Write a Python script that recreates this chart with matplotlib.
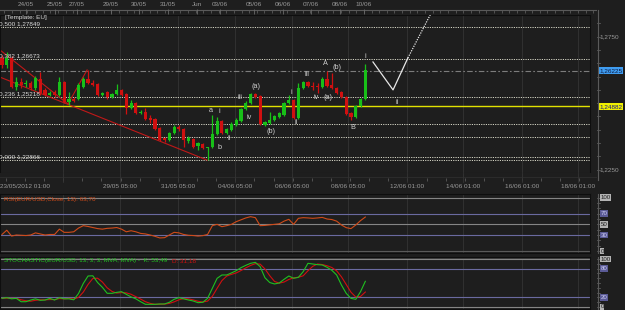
import matplotlib
matplotlib.use('Agg')
import matplotlib.pyplot as plt
from matplotlib.lines import Line2D
import matplotlib.transforms as mtransforms
import numpy as np

plt.rcParams['font.family'] = ['Liberation Sans', 'DejaVu Sans']

# ---------------- data ----------------
open_ = [1.2670, 1.2644, 1.2670, 1.2561, 1.2580, 1.2572, 1.2576, 1.2557, 1.2591, 1.2550,
         1.2531, 1.2542, 1.2531, 1.2580, 1.2504, 1.2516, 1.2516, 1.2561, 1.2591, 1.2576,
         1.2572, 1.2531, 1.2542, 1.2523, 1.2535, 1.2550, 1.2535, 1.2482, 1.2501, 1.2463,
         1.2467, 1.2444, 1.2441, 1.2407, 1.2369, 1.2362, 1.2388, 1.2410, 1.2403, 1.2358,
         1.2365, 1.2339, 1.2347, 1.2332, 1.2335, 1.2384, 1.2433, 1.2388, 1.2399, 1.2418,
         1.2433, 1.2478, 1.2501, 1.2535, 1.2527, 1.2418, 1.2426, 1.2437, 1.2448, 1.2456,
         1.2501, 1.2512, 1.2444, 1.2557, 1.2580, 1.2565, 1.2565, 1.2561, 1.2591, 1.2568,
         1.2557, 1.2542, 1.2523, 1.2463, 1.2448, 1.2489, 1.2516]
high = [1.2681, 1.2692, 1.2677, 1.2598, 1.2595, 1.2587, 1.2583, 1.2602, 1.2617, 1.2557,
        1.2546, 1.2550, 1.2598, 1.2583, 1.2542, 1.2523, 1.2576, 1.2598, 1.2625, 1.2587,
        1.2576, 1.2542, 1.2546, 1.2538, 1.2572, 1.2553, 1.2538, 1.2512, 1.2504, 1.2474,
        1.2482, 1.2456, 1.2444, 1.2410, 1.2373, 1.2392, 1.2418, 1.2418, 1.2407, 1.2377,
        1.2369, 1.2354, 1.2350, 1.2335, 1.2456, 1.2448, 1.2437, 1.2407, 1.2429, 1.2444,
        1.2482, 1.2508, 1.2538, 1.2538, 1.2531, 1.2433, 1.2467, 1.2456, 1.2467, 1.2504,
        1.2531, 1.2516, 1.2576, 1.2583, 1.2583, 1.2580, 1.2576, 1.2598, 1.2621, 1.2614,
        1.2561, 1.2546, 1.2527, 1.2467, 1.2493, 1.2520, 1.2647]
low = [1.2632, 1.2632, 1.2557, 1.2550, 1.2557, 1.2561, 1.2550, 1.2550, 1.2531, 1.2527,
       1.2527, 1.2523, 1.2527, 1.2501, 1.2493, 1.2504, 1.2512, 1.2557, 1.2572, 1.2565,
       1.2527, 1.2527, 1.2516, 1.2520, 1.2531, 1.2527, 1.2459, 1.2478, 1.2459, 1.2459,
       1.2437, 1.2426, 1.2399, 1.2358, 1.2354, 1.2358, 1.2384, 1.2395, 1.2335, 1.2350,
       1.2332, 1.2324, 1.2328, 1.2287, 1.2332, 1.2380, 1.2384, 1.2384, 1.2395, 1.2414,
       1.2429, 1.2474, 1.2497, 1.2520, 1.2418, 1.2414, 1.2422, 1.2433, 1.2444, 1.2452,
       1.2497, 1.2441, 1.2441, 1.2553, 1.2561, 1.2550, 1.2538, 1.2557, 1.2561, 1.2553,
       1.2535, 1.2520, 1.2456, 1.2437, 1.2444, 1.2486, 1.2512]
close = [1.2644, 1.2670, 1.2561, 1.2580, 1.2568, 1.2576, 1.2557, 1.2595, 1.2538, 1.2531,
         1.2538, 1.2531, 1.2580, 1.2504, 1.2516, 1.2508, 1.2568, 1.2591, 1.2576, 1.2568,
         1.2531, 1.2538, 1.2523, 1.2535, 1.2550, 1.2531, 1.2482, 1.2501, 1.2463, 1.2467,
         1.2441, 1.2437, 1.2403, 1.2362, 1.2362, 1.2388, 1.2410, 1.2403, 1.2362, 1.2369,
         1.2335, 1.2350, 1.2332, 1.2335, 1.2384, 1.2433, 1.2388, 1.2403, 1.2422, 1.2437,
         1.2478, 1.2501, 1.2535, 1.2523, 1.2422, 1.2429, 1.2437, 1.2452, 1.2463, 1.2501,
         1.2512, 1.2444, 1.2557, 1.2580, 1.2565, 1.2561, 1.2561, 1.2591, 1.2565, 1.2557,
         1.2538, 1.2523, 1.2459, 1.2448, 1.2489, 1.2516, 1.2623]

rsi = [31, 39, 28, 30, 29.5, 29, 30, 34, 32, 30,
       31, 31, 41, 35, 35, 36, 43, 47.5, 46, 44,
       42, 41, 42.5, 43, 44, 41, 36, 38, 36, 33,
       32, 30, 27.5, 24.5, 25, 30, 35, 34, 31, 29.5,
       29, 28, 28.8, 31, 47.5, 50, 45.6, 47.5, 50, 55,
       58.5, 62, 64.4, 62.5, 47.5, 48, 49, 50, 51, 56,
       59.4, 50, 61.3, 62.5, 62, 61.3, 62, 63, 60, 59,
       56, 48.8, 43.8, 42, 48.8, 57, 63.7]

stoch_k = [18, 19.5, 17, 18, 11, 11, 14.5, 17, 14, 14.5,
           18, 14.5, 19.5, 17, 17, 15, 28, 49, 64.6, 65,
           51, 41, 28.5, 28.5, 30.5, 32, 26.4, 21, 17, 11,
           5.6, 5.6, 5.6, 6.3, 6.3, 9.8, 16, 19.5, 17, 14.6,
           12.5, 9, 9.8, 18, 39, 59.8, 66.7, 66.7, 71, 75.7,
           82, 86.8, 91, 93, 84, 61, 51, 48, 50, 57.7,
           64.6, 59.8, 61.8, 73.6, 91, 89.6, 88.2, 87.5, 82.7, 76.4,
           66.7, 45.9, 28.5, 18, 16, 32, 53.49]
stoch_d = [18, 18.5, 18, 18, 15, 13, 12, 14, 15, 15,
           15.5, 15.5, 17.5, 17, 18, 16.5, 20, 31, 47, 59.5,
           60, 52, 40, 32.5, 29, 30, 29.5, 26.5, 21.5, 16.5,
           11, 7.5, 5.6, 5.8, 6, 7.5, 10.7, 15, 17.5, 17,
           14.7, 12, 10.4, 12.3, 22.3, 39, 55, 64.4, 68, 71,
           76, 81.5, 86.6, 90.3, 89.3, 79.3, 65.3, 53.3, 49.7, 52,
           57.4, 60.7, 62, 65, 75.5, 84.7, 89.6, 88.4, 86, 82.2,
           75.3, 63, 47, 30.8, 20.8, 22, 31.18]

fib_levels = [1.27849, 1.26673, 1.25218, 1.22866]
fib_labels = ['0,500 1,27849', '0,382 1,26673', '0,236 1,25218', '0,000 1,22866']
extra_levels = [1.2422, 1.2373, 1.2297]
support_level = 1.24882
last_price = 1.26225

wave_labels = ['a', 'i', 'b', 'ii', 'iii', 'iv', '(a)', '(b)', 'i', 'ii', 'iii', 'iv',
               '(a)', 'A', '(b)', 'B', 'i', 'ii']
wave_x = [43.7, 45.4, 45.6, 47.5, 49.8, 51.7, 53.1, 56.3, 60.5, 61.5, 63.8, 65.7,
          68.2, 67.6, 70.1, 73.4, 76.1, 82.6]
wave_y = [1.2474, 1.2467, 1.2335, 1.2369, 1.2523, 1.2448, 1.2561, 1.2392, 1.2542, 1.2429,
          1.2606, 1.2520, 1.2523, 1.2651, 1.2636, 1.2410, 1.2674, 1.2504]

trend1_x = [-0.42, 42.9]
trend1_y = [1.2598, 1.2286]
trend2_x = [-0.42, 13.8, 17.8]
trend2_y = [1.2700, 1.2497, 1.2625]
proj_x = [77.6, 81.8, 84.9]
proj_y = [1.2655, 1.2550, 1.2670]
proj2_x = [84.9, 89.8]
proj2_y = [1.2670, 1.2840]

top_labels = ['24/05', '25/05', '27/05', '29/05', '30/05', '31/05', 'Jun', '03/06',
              '05/06', '06/06', '07/06', '08/06', '10/06']
top_pos = [5.0, 11.1, 15.7, 22.8, 28.7, 34.7, 40.8, 45.6, 52.7, 58.8, 64.6, 70.7, 75.7]
grid_pos = [12.8, 24.7, 36.8, 48.7, 60.7, 72.4, 84.7, 96.4, 108.8, 120.5]
bottom_labels = ['', '29/05 05:00', '31/05 05:00', '04/06 05:00', '06/06 05:00',
                 '08/06 05:00', '12/06 01:00', '14/06 01:00', '16/06 01:00', '18/06 01:00']
price_ticks = [1.2750, 1.2250]

# ---------------- layout ----------------
W, H = 625, 310
BG = '#1e1e1e'
FS = 4.6
XMIN, XMAX = -0.42, 123.0

fig = plt.figure(figsize=(W / 100, H / 100), dpi=100, facecolor=BG)


def pax(x0, y0, x1, y1):
    a = fig.add_axes([x0 / W, 1 - y1 / H, (x1 - x0) / W, (y1 - y0) / H])
    a.set_facecolor(BG)
    a.set_xlim(XMIN, XMAX)
    a.set_xticks([])
    a.set_yticks([])
    return a


def fline(x0, y0, x1, y1, **kw):
    fig.add_artist(Line2D([x0 / W, x1 / W], [1 - y0 / H, 1 - y1 / H],
                          transform=fig.transFigure, **kw))


GRIDC = '#343434'
FRAMEC = '#0e0e0e'

# ---- main price panel ----
ax = pax(0, 15, 590, 173)
ax.set_ylim(1.22375, 1.28316)
for s in ax.spines.values():
    s.set_color(FRAMEC)
    s.set_linewidth(0.8)
for g in grid_pos:
    ax.axvline(g, color=GRIDC, lw=0.6, zorder=0)

for lv in fib_levels + extra_levels:
    ax.axhline(lv, color='#d6d6c6', lw=0.7, ls=(0, (1.2, 1.2)), zorder=1)
ax.axhline(last_price, color='#7c7c7c', lw=0.8, ls=(0, (5, 2, 1.5, 2)), zorder=1)
ax.axhline(support_level, color='#e2e200', lw=1.0, zorder=1)

for lab, lv in zip(fib_labels, fib_levels):
    ax.text(-0.6, lv + 0.0012, lab, color='#d8d8d8', fontsize=FS, ha='left', va='center',
            zorder=5)
ax.text(0.6, 1.2822, '[Template: EU]', color='#d8d8d8', fontsize=FS, ha='left',
        va='center', zorder=5)

o = np.array(open_)
h = np.array(high)
lo = np.array(low)
c = np.array(close)
x = np.arange(len(o))
cols = np.where(c >= o, '#18c018', '#d01010')
ax.vlines(x, lo, h, colors=cols, lw=0.9, zorder=3)
ax.bar(x, np.maximum(np.abs(c - o), 0.00012), bottom=np.minimum(o, c), width=0.66,
       color=cols, lw=0, zorder=4)

ax.plot(trend1_x, trend1_y, color='#c01818', lw=0.8, zorder=2)
ax.plot(trend2_x, trend2_y, color='#c01818', lw=0.8, zorder=2)
ax.plot(proj_x, proj_y, color='#e8e8e8', lw=0.9, zorder=5)
ax.plot(proj2_x, proj2_y, color='#e8e8e8', lw=0.9, ls=(0, (1, 1)), zorder=5)

for s, wx, wy in zip(wave_labels, wave_x, wave_y):
    ax.text(wx, wy, s, color='#cfcfcf', fontsize=5.2, ha='center', va='center', zorder=6)

tr = mtransforms.blended_transform_factory(ax.transAxes, ax.transData)
for p in price_ticks:
    ax.text(1.0155, p, f'{p:.4f}'.replace('.', ','), transform=tr, color='#9a9a9a',
            fontsize=FS, ha='left', va='center', clip_on=False)
ax.text(1.0155, last_price, f'{last_price:.5f}'.replace('.', ','), transform=tr,
        color='#0c1a40', fontsize=FS, ha='left', va='center', clip_on=False,
        bbox=dict(boxstyle='square,pad=0.18', fc='#3f9cf0', ec='none'))
ax.text(1.0155, support_level, f'{support_level:.5f}'.replace('.', ','), transform=tr,
        color='#1a1a80', fontsize=FS, ha='left', va='center', clip_on=False,
        bbox=dict(boxstyle='square,pad=0.18', fc='#f0f000', ec='none'))
fline(597.5, 10, 597.5, 180, color='#5a5a5a', lw=0.8)
for p in np.arange(1.2250, 1.2826, 0.005):
    ax.plot([1.0127, 1.017], [p, p], transform=tr, color='#5a5a5a', lw=0.6, clip_on=False)

# ---- top strip ----
at = pax(0, 0, 597, 15)
at.set_xlim(XMIN, XMIN + (XMAX - XMIN) * 597 / 590)
at.set_ylim(15, 0)
for s in at.spines.values():
    s.set_visible(False)
at.axhline(10, color='#5a5a5a', lw=0.8)
tpos = np.arange(0.5, 124, 1.6)
at.vlines(tpos, 10, 12.8, color='#5a5a5a', lw=0.6)
at.vlines(top_pos, 8.5, 14, color='#6a6a6a', lw=0.6)
for s, p in zip(top_labels, top_pos):
    at.text(p, 4.5, s, color='#9a9a9a', fontsize=FS, ha='center', va='center')

# ---- bottom strip ----
ab = pax(0, 173, 597, 194)
ab.set_xlim(XMIN, XMIN + (XMAX - XMIN) * 597 / 590)
ab.set_ylim(21, 0)
for s in ab.spines.values():
    s.set_visible(False)
ab.axhline(3.5, color='#2e2e2e', lw=0.6)
ab.vlines(np.arange(0.8, 124, 4.0), 4.5, 7.5, color='#5a5a5a', lw=0.6)
for g in grid_pos:
    ab.axvline(g, ymin=0.55, ymax=1.0, color=GRIDC, lw=0.6)
for s, p in zip(bottom_labels, grid_pos):
    if s:
        ab.text(p, 13, s, color='#9a9a9a', fontsize=FS, ha='center', va='center')
ab.text(XMIN + 0.05, 13, '23/05/2012 01:00', color='#9a9a9a', fontsize=FS, ha='left',
        va='center')

# ---- RSI panel ----
ar = pax(0, 194, 590, 253)
ar.set_ylim(-3.75, 106.9)
for s in ar.spines.values():
    s.set_color(FRAMEC)
    s.set_linewidth(0.8)
for g in grid_pos:
    ar.axvline(g, color=GRIDC, lw=0.6, zorder=0)
PURP = '#6a6aa0'
GRAYL = '#858585'
ar.axhline(100, color=GRAYL, lw=0.8)
ar.axhline(50, color=GRAYL, lw=0.8)
ar.axhline(70, color=PURP, lw=0.8)
ar.axhline(30, color=PURP, lw=0.8)
ar.axhline(0, color='#5a5a5a', lw=0.8)
ar.plot(x, rsi, color='#d04a18', lw=0.8, zorder=3)
ar.text(0.006, 0.9, 'RSI(EUR/USD,Close, 13): 63,70', transform=ar.transAxes,
        color='#d04a18', fontsize=FS, ha='left', va='center')
trr = mtransforms.blended_transform_factory(ar.transAxes, ar.transData)
for v, fc, tc in [(100, '#b4b4b4', '#202020'), (70, '#5a5a96', '#c8c8f0'),
                  (50, '#b4b4b4', '#202020'), (30, '#5a5a96', '#c8c8f0'),
                  (0, '#b4b4b4', '#202020')]:
    ar.text(1.0175, v, str(v), transform=trr, color=tc, fontsize=FS - 0.2, ha='left',
            va='center', clip_on=False,
            bbox=dict(boxstyle='square,pad=0.12', fc=fc, ec='none'))
fline(597.5, 194, 597.5, 253, color='#5a5a5a', lw=0.8)
for v in range(0, 101, 10):
    ar.plot([1.0127, 1.017], [v, v], transform=trr, color='#5a5a5a', lw=0.6,
            clip_on=False)

# ---- Stochastic panel ----
ast = pax(0, 257, 590, 309)
ast.set_ylim(-4.17, 104.17)
for s in ast.spines.values():
    s.set_color(FRAMEC)
    s.set_linewidth(0.8)
for g in grid_pos:
    ast.axvline(g, color=GRIDC, lw=0.6, zorder=0)
ast.axhspan(100, 104.17, color='#3a3a3a', lw=0, zorder=0)
ast.axhline(100, color=GRAYL, lw=0.8)
ast.axhline(80, color=PURP, lw=0.8)
ast.axhline(20, color=PURP, lw=0.8)
ast.axhline(0, color=GRAYL, lw=0.8)
ast.plot(x, stoch_d, color='#d01010', lw=0.8, zorder=3)
ast.plot(x, stoch_k, color='#20c020', lw=0.8, zorder=4)
ktxt = ast.text(0.006, 0.93, 'STOCHASTIC(EUR/USD, 13, 3, 3, MVA, MVA) -  K: 53,49',
                transform=ast.transAxes, color='#20c020', fontsize=FS, ha='left',
                va='center', zorder=6)
fig.canvas.draw()
bb = ktxt.get_window_extent(fig.canvas.get_renderer())
x_end = ast.transAxes.inverted().transform((bb.x1 + 5, bb.y0))[0]
ast.text(x_end, 0.93, 'D: 31,18', transform=ast.transAxes, color='#d01010',
         fontsize=FS, ha='left', va='center', zorder=6)
trs = mtransforms.blended_transform_factory(ast.transAxes, ast.transData)
for v, fc, tc in [(100, '#b4b4b4', '#202020'), (80, '#5a5a96', '#c8c8f0'),
                  (20, '#5a5a96', '#c8c8f0'), (0, '#b4b4b4', '#202020')]:
    ast.text(1.0175, v, str(v), transform=trs, color=tc, fontsize=FS - 0.2, ha='left',
             va='center', clip_on=False,
             bbox=dict(boxstyle='square,pad=0.12', fc=fc, ec='none'))
fline(597.5, 257, 597.5, 310, color='#5a5a5a', lw=0.8)
for v in range(0, 101, 10):
    ast.plot([1.0127, 1.017], [v, v], transform=trs, color='#5a5a5a', lw=0.6,
             clip_on=False)

fig.savefig('out.png', dpi=100, facecolor=BG)
